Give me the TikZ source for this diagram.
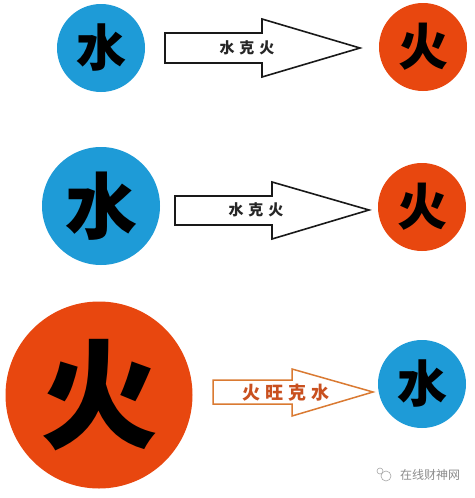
\documentclass[tikz,border=0pt]{standalone}
\usepackage{fontspec}
\newfontfamily\cjk{Noto Sans CJK SC}
\begin{document}
\begin{tikzpicture}[x=1pt,y=-1pt,
  blueball/.style={circle,fill=waterblue,inner sep=0pt,text=black},
  redball/.style={circle,fill=firered,inner sep=0pt,text=black},
  blockarrow/.style={draw=black!90,line width=1.6pt,fill=white,line join=miter},
  firearrow/.style={draw=arroworange,line width=1.5pt,fill=white,line join=miter},
  arrowlabel/.style={font=\cjk\bfseries\fontsize{15}{15}\selectfont,text=black!85},
  firelabel/.style={font=\cjk\bfseries\fontsize{18}{18}\selectfont,text=labelorange}]
\definecolor{waterblue}{HTML}{1E9BD7}
\definecolor{firered}{HTML}{E8470F}
\definecolor{arroworange}{HTML}{DA7A32}
\definecolor{labelorange}{HTML}{C9501F}
\useasboundingbox[fill=white] (0,0) rectangle (474,498);

% row 1
\node[blueball,minimum size=88pt,font=\cjk\bfseries\fontsize{50}{50}\selectfont] (w1) at (101,48) {水};
\node[redball,minimum size=88pt,font=\cjk\bfseries\fontsize{50}{50}\selectfont] (f1) at (423,47) {火};
\draw[blockarrow] (165,33) -- (262,33) -- (262,19) -- (360,48) -- (262,77) -- (262,63) -- (165,63) -- cycle;
\node[arrowlabel] (l1) at (247,48) {水\hspace{5pt}克\hspace{5pt}火};

% row 2
\node[blueball,minimum size=118pt,font=\cjk\bfseries\fontsize{72}{72}\selectfont] (w2) at (101,206) {水};
\node[redball,minimum size=88pt,font=\cjk\bfseries\fontsize{50}{50}\selectfont] (f2) at (422,207) {火};
\draw[blockarrow] (175,196) -- (272,196) -- (272,182) -- (369,210) -- (272,239) -- (272,225) -- (175,225) -- cycle;
\node[arrowlabel] (l2) at (256,210) {水\hspace{5pt}克\hspace{5pt}火};

% row 3
\node[redball,minimum size=187pt,font=\cjk\bfseries\fontsize{118}{118}\selectfont] (f3) at (99,395) {火};
\node[blueball,minimum size=88pt,font=\cjk\bfseries\fontsize{50}{50}\selectfont] (w3) at (422,384) {水};
\draw[firearrow] (213,380) -- (292,380) -- (292,369) -- (373,392) -- (292,416) -- (292,404) -- (213,404) -- cycle;
\node[firelabel] (l3) at (286,393) {火\hspace{5pt}旺\hspace{5pt}克\hspace{5pt}水};

% watermark
\draw[black!35,line width=0.6pt] (386,476) circle (5pt);
\draw[black!35,line width=0.6pt] (380,471) circle (3pt);
\node[font=\cjk\fontsize{12}{12}\selectfont,text=black!45] (wm) at (430,475) {在线财神网};
\end{tikzpicture}
\end{document}
